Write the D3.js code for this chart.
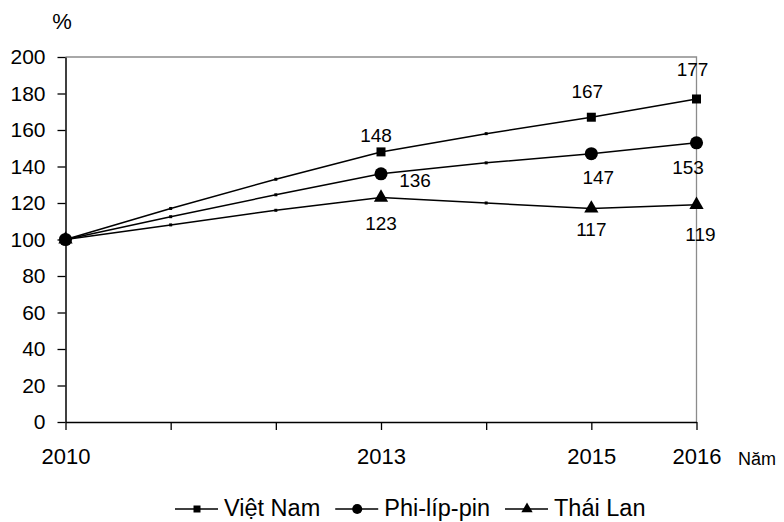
<!DOCTYPE html>
<html>
<head>
<meta charset="utf-8">
<script src="https://cdn.jsdelivr.net/npm/d3@7/dist/d3.min.js"></script>
<style>
  html, body { margin: 0; padding: 0; background: #fff; }
  svg { display: block; font-family: "Liberation Sans", Arial, sans-serif; }
</style>
</head>
<body>
<svg id="chart" width="784" height="522"></svg>
<script>
// Tốc độ tăng trưởng (%), năm 2010 = 100
const years = [2010, 2011, 2012, 2013, 2014, 2015, 2016];
const labeledYears = [2010, 2013, 2015, 2016];
const markedYears = [2010, 2013, 2015, 2016];
const yTicks = [0, 20, 40, 60, 80, 100, 120, 140, 160, 180, 200];

const seriesNames = ["Việt Nam", "Phi-líp-pin", "Thái Lan"];
const vietNam     = [100, 117, 133, 148, 158, 167, 177];
const philippines = [100, 112.5, 124.5, 136, 142, 147, 153];
const thailand    = [100, 108, 116, 123, 120, 117, 119];

const valueLabelYears = [2013, 2015, 2016];

// label placement relative to each marker: [dx, dy to baseline]
const labelOffsets = {
  "Việt Nam":    { 2013: [-5, -10], 2015: [-4, -19], 2016: [-4, -23] },
  "Phi-líp-pin": { 2013: [34, 13],  2015: [7, 30],   2016: [-8.5, 31] },
  "Thái Lan":    { 2013: [0, 32],   2015: [0, 28],   2016: [4, 36] }
};

const series = [
  { name: seriesNames[0], values: vietNam,     symbol: d3.symbolSquare,   size: 81,  legendSize: 49 },
  { name: seriesNames[1], values: philippines, symbol: d3.symbolCircle,   size: 135, legendSize: 80 },
  { name: seriesNames[2], values: thailand,    symbol: d3.symbolTriangle, size: 88,  legendSize: 55 }
];

const svg = d3.select("#chart");

const plot = { left: 65.5, right: 696.5, top: 57, bottom: 422 };
const x = d3.scaleLinear().domain([2010, 2016]).range([plot.left, plot.right]);
const y = d3.scaleLinear().domain([0, 200]).range([plot.bottom, plot.top]);

// top and right frame of the plot area
svg.append("path")
  .attr("d", `M${plot.left},${plot.top}H${plot.right}V${plot.bottom}`)
  .attr("fill", "none")
  .attr("stroke", "#8c8c8c")
  .attr("stroke-width", 1.3);

// y axis
const yAxis = svg.append("g")
  .attr("transform", `translate(${plot.left},0)`)
  .call(d3.axisLeft(y).tickValues(yTicks).tickSize(8).tickPadding(12).tickSizeOuter(0));
yAxis.select(".domain").attr("stroke", "#000").attr("stroke-width", 1.5);
yAxis.selectAll(".tick line").attr("stroke", "#000").attr("stroke-width", 1.3);
yAxis.selectAll(".tick text")
  .attr("font-size", 21).attr("fill", "#000")
  .attr("font-family", "Liberation Sans, Arial, sans-serif");

// x axis
const xAxis = svg.append("g")
  .attr("transform", `translate(0,${plot.bottom})`)
  .call(d3.axisBottom(x).tickValues(years).tickSize(8).tickSizeOuter(0)
    .tickFormat(d => labeledYears.includes(d) ? String(d) : ""));
xAxis.select(".domain").attr("stroke", "#000").attr("stroke-width", 1.5);
xAxis.selectAll(".tick line").attr("stroke", "#000").attr("stroke-width", 1.3);
xAxis.selectAll(".tick text")
  .attr("y", 42).attr("dy", 0)
  .attr("font-size", 22).attr("fill", "#000")
  .attr("font-family", "Liberation Sans, Arial, sans-serif");

// axis titles
svg.append("text")
  .attr("x", 62).attr("y", 29)
  .attr("text-anchor", "middle")
  .attr("font-size", 22)
  .text("%");

svg.append("text")
  .attr("x", 738).attr("y", 465)
  .attr("font-size", 18)
  .text("Năm");

// lines, markers and value labels
const line = d3.line()
  .x((d, i) => x(years[i]))
  .y(d => y(d));

series.forEach(s => {
  const g = svg.append("g");
  g.append("path")
    .datum(s.values)
    .attr("d", line)
    .attr("fill", "none")
    .attr("stroke", "#000")
    .attr("stroke-width", 1.5);

  // small point marks on intermediate years
  g.selectAll("rect.small")
    .data(years.filter(yr => !markedYears.includes(yr)))
    .join("rect")
    .attr("class", "small")
    .attr("x", yr => x(yr) - 1.5)
    .attr("y", yr => y(s.values[years.indexOf(yr)]) - 1.5)
    .attr("width", 3).attr("height", 3)
    .attr("fill", "#000");

  g.selectAll("path.marker")
    .data(markedYears)
    .join("path")
    .attr("class", "marker")
    .attr("transform", yr => `translate(${x(yr)},${y(s.values[years.indexOf(yr)])})`)
    .attr("d", d3.symbol().type(s.symbol).size(s.size))
    .attr("fill", "#000");

  g.selectAll("text.value")
    .data(valueLabelYears)
    .join("text")
    .attr("class", "value")
    .attr("x", yr => x(yr) + labelOffsets[s.name][yr][0])
    .attr("y", yr => y(s.values[years.indexOf(yr)]) + labelOffsets[s.name][yr][1])
    .attr("text-anchor", "middle")
    .attr("font-size", 19)
    .attr("fill", "#000")
    .text(yr => d3.format("d")(s.values[years.indexOf(yr)]));
});

// legend
const legend = svg.append("g");
let lx = 175;
const ly = 509;
series.forEach(s => {
  legend.append("line")
    .attr("x1", lx).attr("x2", lx + 43)
    .attr("y1", ly).attr("y2", ly)
    .attr("stroke", "#000").attr("stroke-width", 1.5);
  legend.append("path")
    .attr("transform", `translate(${lx + 22},${ly})`)
    .attr("d", d3.symbol().type(s.symbol).size(s.legendSize))
    .attr("fill", "#000");
  const t = legend.append("text")
    .attr("x", lx + 49).attr("y", 516)
    .attr("font-size", 23.5)
    .attr("fill", "#000")
    .text(s.name);
  lx = lx + 49 + t.node().getComputedTextLength() + 15;
});
</script>
</body>
</html>
